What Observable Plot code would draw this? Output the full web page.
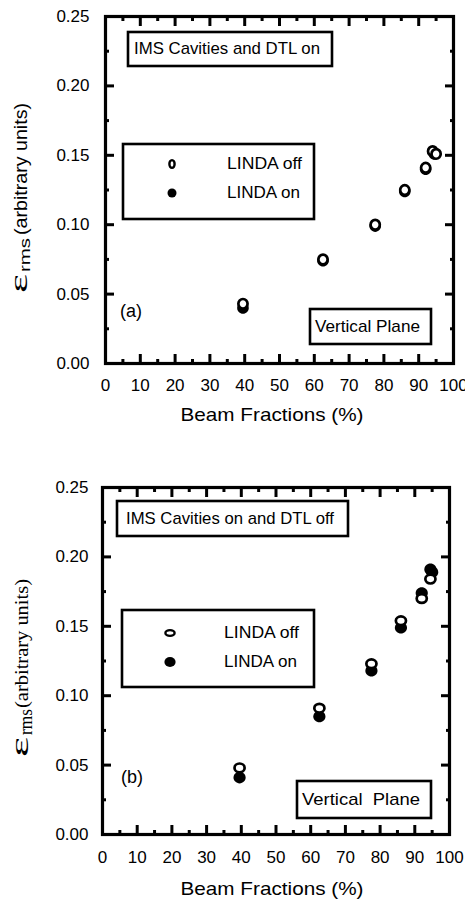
<!DOCTYPE html>
<html>
<head>
<meta charset="utf-8">
<script src="https://cdn.jsdelivr.net/npm/d3@7"></script>
<script src="https://cdn.jsdelivr.net/npm/@observablehq/plot@0.6"></script>
<style>
  html, body { margin: 0; padding: 0; background: #fff; }
  #chart { width: 465px; }
  #chart svg { display: block; }
</style>
</head>
<body>
<div id="chart"></div>
<script>
const xTicks = [0, 10, 20, 30, 40, 50, 60, 70, 80, 90, 100];
const xMinor = [5, 15, 25, 35, 45, 55, 65, 75, 85, 95];
const yTicks = [0, 0.05, 0.10, 0.15, 0.20, 0.25];
const yMinor = [0.025, 0.075, 0.125, 0.175, 0.225];

const aOffX = [39.5, 62.5, 77.5, 86.0, 92.0, 94.0, 95.0];
const aOffY = [0.043, 0.075, 0.100, 0.125, 0.141, 0.153, 0.151];
const aOnX  = [39.5, 62.5, 77.5, 86.0, 92.0, 94.5];
const aOnY  = [0.040, 0.074, 0.099, 0.124, 0.140, 0.151];

const bOffX = [39.5, 62.5, 77.5, 86.0, 92.0, 94.5];
const bOffY = [0.048, 0.091, 0.123, 0.154, 0.170, 0.184];
const bOnX  = [39.5, 62.5, 77.5, 86.0, 92.0, 94.5, 95.0];
const bOnY  = [0.041, 0.085, 0.118, 0.149, 0.174, 0.191, 0.189];

const seriesNames = ["LINDA off", "LINDA on"];

function ellipseSymbol(ax, ay) {
  return {
    draw(ctx, size) {
      const r = Math.sqrt(size / Math.PI);
      const rx = r * ax, ry = r * ay, k = 0.5523;
      ctx.moveTo(rx, 0);
      ctx.bezierCurveTo(rx, ry * k, rx * k, ry, 0, ry);
      ctx.bezierCurveTo(-rx * k, ry, -rx, ry * k, -rx, 0);
      ctx.bezierCurveTo(-rx, -ry * k, -rx * k, -ry, 0, -ry);
      ctx.bezierCurveTo(rx * k, -ry, rx, -ry * k, rx, 0);
      ctx.closePath();
    }
  };
}
const zip = (xs, ys) => xs.map((x, i) => ({x, y: ys[i]}));

function panel(cfg) {
  const off = zip(cfg.offX, cfg.offY);
  const on = zip(cfg.onX, cfg.onY);
  const tk = {stroke: "#000", strokeWidth: 3, label: null, tickFormat: () => ""};
  const svg = Plot.plot({
    width: 465,
    height: cfg.height,
    marginTop: cfg.mt, marginBottom: cfg.mb, marginLeft: cfg.ml, marginRight: cfg.mr,
    style: {fontFamily: "'Liberation Sans', Arial, sans-serif", color: "#000", background: "#fff", overflow: "visible"},
    x: {domain: [0, 100]},
    y: {domain: [0, 0.25]},
    marks: [
      // tick labels
      Plot.axisX(xTicks, {tickSize: 0, tickPadding: cfg.xpad, fontSize: 17, tickFormat: d => String(d), label: null}),
      Plot.axisY(yTicks, {tickSize: 0, tickPadding: cfg.ypad, fontSize: 17, tickFormat: d3.format(".2f"), label: null}),
      // inward ticks (negative tick size points into the frame)
      Plot.axisX(xTicks, {anchor: "bottom", tickSize: -9, ...tk}),
      Plot.axisX(xTicks, {anchor: "top", tickSize: -9, ...tk}),
      Plot.axisX(xMinor, {anchor: "bottom", tickSize: -4, ...tk}),
      Plot.axisX(xMinor, {anchor: "top", tickSize: -4, ...tk}),
      Plot.axisY(yTicks, {anchor: "left", tickSize: -9, ...tk}),
      Plot.axisY(yTicks, {anchor: "right", tickSize: -9, ...tk}),
      Plot.axisY(yMinor, {anchor: "left", tickSize: -4, ...tk}),
      Plot.axisY(yMinor, {anchor: "right", tickSize: -4, ...tk}),
      Plot.frame({stroke: "#000", strokeWidth: 3.2}),
      Plot.dot(on, {x: "x", y: "y", r: 5.8, symbol: ellipseSymbol(cfg.onAx, cfg.onAy), fill: "#000", stroke: "none"}),
      Plot.dot(off, {x: "x", y: "y", r: 4.6, symbol: ellipseSymbol(cfg.offAx, cfg.offAy), fill: "#fff", stroke: "#000", strokeWidth: 2.7})
    ]
  });

  const s = d3.select(svg);
  const dy = cfg.offsetY;
  const g = s.append("g").attr("font-family", "'Liberation Sans', Arial, sans-serif").attr("fill", "#000").attr("text-anchor", "start");

  g.append("rect").attr("x", cfg.box1[0]).attr("y", cfg.box1[1] - dy).attr("width", cfg.box1[2]).attr("height", cfg.box1[3])
    .attr("fill", "#fff").attr("stroke", "#000").attr("stroke-width", 2.6);
  g.append("text").attr("x", cfg.box1[0] + cfg.box1t[0]).attr("y", cfg.box1t[1] - dy).attr("font-size", 17)
    .attr("textLength", cfg.box1t[2]).attr("lengthAdjust", "spacingAndGlyphs").text(cfg.title);

  const lb = cfg.leg;
  g.append("rect").attr("x", lb[0]).attr("y", lb[1] - dy).attr("width", lb[2]).attr("height", lb[3])
    .attr("fill", "#fff").attr("stroke", "#000").attr("stroke-width", 2.6);
  const lm = cfg.legMarks;
  g.append("ellipse").attr("cx", lm.x).attr("cy", lm.y1 - dy).attr("rx", lm.orx).attr("ry", lm.ory)
    .attr("fill", "#fff").attr("stroke", "#000").attr("stroke-width", 2.4);
  g.append("ellipse").attr("cx", lm.x).attr("cy", lm.y2 - dy).attr("rx", lm.frx).attr("ry", lm.fry).attr("fill", "#000");
  g.append("text").attr("x", lm.tx).attr("y", lm.y1 + 5 - dy).attr("font-size", 17)
    .attr("textLength", 75).attr("lengthAdjust", "spacingAndGlyphs").text(seriesNames[0]);
  g.append("text").attr("x", lm.tx).attr("y", lm.y2 + 5 - dy).attr("font-size", 17)
    .attr("textLength", 73).attr("lengthAdjust", "spacingAndGlyphs").text(seriesNames[1]);

  g.append("text").attr("x", cfg.letter[0]).attr("y", cfg.letter[1] - dy).attr("font-size", 18).text(cfg.letterText);

  const pb = cfg.plane;
  g.append("rect").attr("x", pb[0]).attr("y", pb[1] - dy).attr("width", pb[2]).attr("height", pb[3])
    .attr("fill", "#fff").attr("stroke", "#000").attr("stroke-width", 2.6);
  g.append("text").attr("x", pb[0] + 5).attr("y", pb[1] + pb[4] - dy).attr("font-size", 17)
    .attr("textLength", pb[5]).attr("lengthAdjust", "spacingAndGlyphs").attr("style", "white-space:pre").text(cfg.planeText);

  g.append("text").attr("x", 272).attr("y", cfg.xlabY - dy).attr("font-size", 19).attr("text-anchor", "middle")
    .attr("textLength", 183).attr("lengthAdjust", "spacingAndGlyphs").text("Beam Fractions (%)");

  const yl = cfg.ylab;
  const rg = g.append("g").attr("transform", `translate(${yl.x},0) rotate(-90)`);
  rg.append("text").attr("x", -(yl.epsBottom - dy)).attr("y", 0).attr("font-family", "'Liberation Serif', 'DejaVu Serif', serif")
    .attr("font-size", 25).attr("textLength", yl.epsLen).attr("lengthAdjust", "spacingAndGlyphs").text("ε");
  rg.append("text").attr("x", -(yl.rmsBottom - dy)).attr("y", yl.rmsDy).attr("font-family", yl.font)
    .attr("font-size", yl.rmsSize).attr("textLength", yl.rmsLen).attr("lengthAdjust", "spacingAndGlyphs").text("rms");
  rg.append("text").attr("x", -(yl.restBottom - dy)).attr("y", 0).attr("font-family", yl.font)
    .attr("font-size", yl.restSize).attr("textLength", yl.restLen).attr("lengthAdjust", "spacingAndGlyphs").text("(arbitrary units)");

  return svg;
}

const sans = "'Liberation Sans', Arial, sans-serif";
const serif = "'Liberation Serif', 'Times New Roman', serif";

const panelA = panel({
  height: 450, mt: 16, mb: 87, ml: 105, mr: 12, xpad: 15, ypad: 16, offsetY: 0,
  offX: aOffX, offY: aOffY, onX: aOnX, onY: aOnY,
  offAx: 1, offAy: 1.05, onAx: 1, onAy: 1,
  title: "IMS Cavities and DTL on",
  box1: [128, 32, 204, 34], box1t: [6, 54, 186],
  leg: [123, 144, 191, 75],
  legMarks: {x: 172, y1: 164, y2: 193, orx: 2.6, ory: 3.9, frx: 4.5, fry: 4.6, tx: 227},
  letter: [120, 317], letterText: "(a)",
  plane: [310, 309, 121, 35, 23, 105], planeText: "Vertical Plane",
  xlabY: 421,
  ylab: {x: 27, font: sans, epsBottom: 293, epsLen: 19, rmsBottom: 272, rmsDy: 3, rmsSize: 15, rmsLen: 34, restBottom: 235, restSize: 19, restLen: 132}
});

const panelB = panel({
  height: 451, mt: 37, mb: 67, ml: 102, mr: 16, xpad: 16, ypad: 14, offsetY: 450,
  offX: bOffX, offY: bOffY, onX: bOnX, onY: bOnY,
  offAx: 1.1, offAy: 0.95, onAx: 1.05, onAy: 1,
  title: "IMS Cavities on and DTL off",
  box1: [117, 501, 231, 35], box1t: [9, 524, 208],
  leg: [122, 610, 192, 77],
  legMarks: {x: 170, y1: 633, y2: 662, orx: 4.6, ory: 2.9, frx: 5.6, fry: 5, tx: 224},
  letter: [121, 783], letterText: "(b)",
  plane: [297, 781, 134, 37, 24, 118], planeText: "Vertical  Plane",
  xlabY: 895,
  ylab: {x: 28, font: serif, epsBottom: 757, epsLen: 20, rmsBottom: 735, rmsDy: 4, rmsSize: 18, rmsLen: 26, restBottom: 708, restSize: 19, restLen: 129}
});

document.getElementById("chart").append(panelA, panelB);
</script>
</body>
</html>
